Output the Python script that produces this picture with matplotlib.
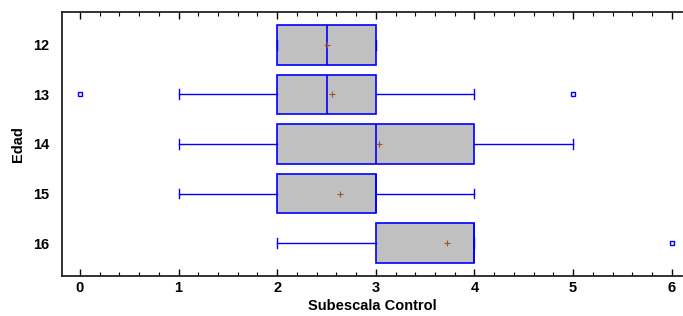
import matplotlib
matplotlib.use("Agg")
import matplotlib.pyplot as plt
from matplotlib.ticker import MultipleLocator

# Data
edades = ["12", "13", "14", "15", "16"]
whislo = [2, 1, 1, 1, 2]
q1 = [2, 2, 2, 2, 3]
medianas = [2.5, 2.5, 3, 3, 4]
q3 = [3, 3, 4, 3, 4]
whishi = [3, 4, 5, 4, 4]
medias = [2.50, 2.56, 3.03, 2.64, 3.72]
atipicos = [[], [0, 5], [], [], [6]]

plt.rcParams["font.family"] = ["Liberation Sans", "DejaVu Sans"]
plt.rcParams["font.weight"] = "bold"

stats = []
for i, e in enumerate(edades):
    stats.append(dict(label=e, whislo=whislo[i], q1=q1[i], med=medianas[i],
                      q3=q3[i], whishi=whishi[i], mean=medias[i],
                      fliers=atipicos[i]))

fig = plt.figure(figsize=(6.83, 3.16), dpi=100)
ax = fig.add_axes([0.091, 0.127, 0.907, 0.835])

blue = "#0000FF"
positions = list(range(1, len(edades) + 1))
ax.bxp(stats, positions=positions, orientation="horizontal", widths=0.8,
       patch_artist=True, showmeans=True, capwidths=0.2,
       boxprops=dict(facecolor="#C0C0C0", edgecolor=blue, linewidth=1.2),
       medianprops=dict(color=blue, linewidth=1.2),
       whiskerprops=dict(color=blue, linewidth=1.0),
       capprops=dict(color=blue, linewidth=1.0),
       meanprops=dict(marker="+", markeredgecolor="#A0522D", markersize=4,
                      markeredgewidth=0.8),
       flierprops=dict(marker="s", markerfacecolor="white",
                       markeredgecolor=blue, markersize=3.2,
                       markeredgewidth=1.0))

ax.set_xlim(-0.18, 6.1)
ax.set_ylim(5.66, 0.34)
ax.set_yticks(positions)
ax.set_yticklabels(edades)
ax.xaxis.set_major_locator(MultipleLocator(1))
ax.xaxis.set_minor_locator(MultipleLocator(0.2))
ax.tick_params(axis="x", which="major", direction="in", length=5,
               top=True, labelsize=10.5, width=1.0)
ax.tick_params(axis="x", which="minor", direction="in", length=3,
               top=True, width=0.8)
ax.tick_params(axis="y", length=0, labelsize=10.5, pad=9)

for s in ax.spines.values():
    s.set_linewidth(1.3)
    s.set_color("#222222")
ax.spines["right"].set_visible(False)

ax.set_xlabel("Subescala Control", fontsize=10.5, fontweight="bold", labelpad=3)
ax.set_ylabel("Edad", fontsize=10.5, fontweight="bold", labelpad=6)

fig.savefig("out.png", dpi=100)
